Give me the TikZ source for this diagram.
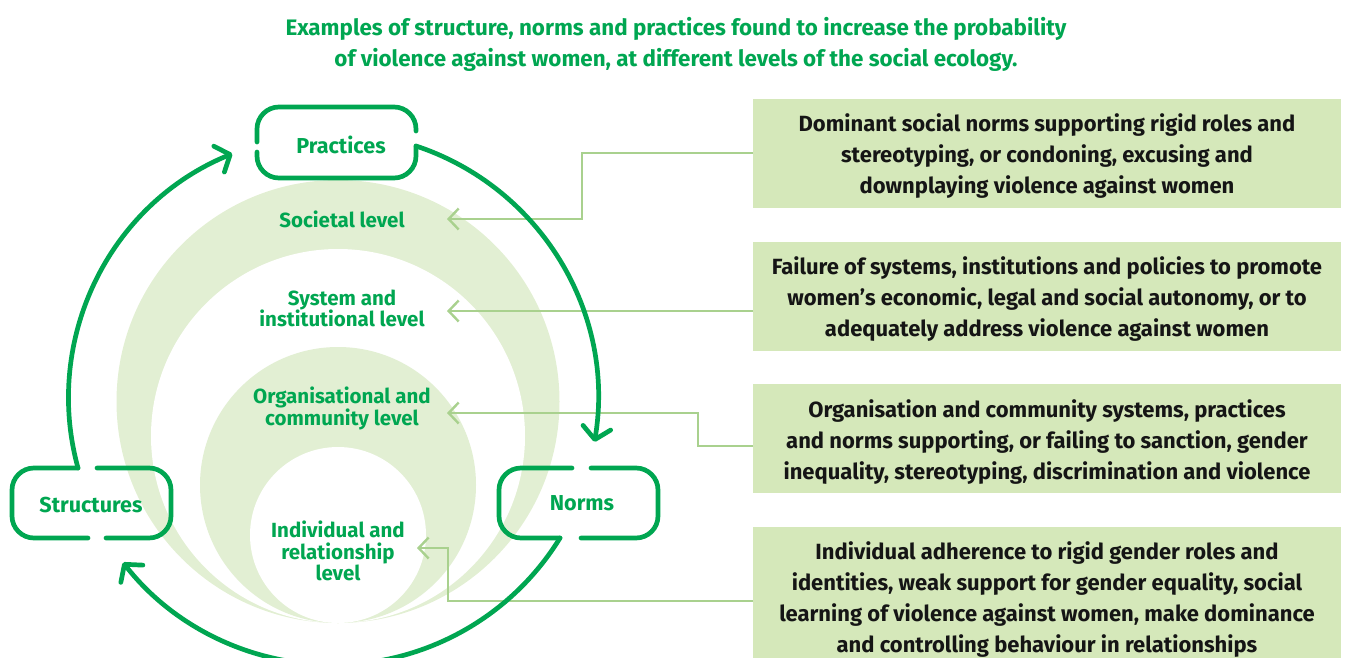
\documentclass[tikz,border=0pt]{standalone}
\usepackage{fontspec}
\setmainfont{Fira Sans}
\usetikzlibrary{arrows.meta}
\definecolor{dg}{HTML}{00A651}
\definecolor{lightfill}{HTML}{E2EFD3}
\definecolor{boxfill}{HTML}{D5E8BA}
\definecolor{conn}{HTML}{A9D18E}
\definecolor{txt}{HTML}{151515}
\begin{document}
\begin{tikzpicture}[x=1pt,y=-1pt,
  cyc/.style={draw=dg, line width=4.7pt, line cap=round, line join=round},
  cycarrow/.style={cyc, -{Straight Barb[length=12pt,width=28pt,line cap=round,line join=round]}},
  lconn/.style={draw=conn, line width=2.4pt, -{Straight Barb[length=10pt,width=21pt]}},
  title/.style={text=dg, font=\fontsize{22.4}{31}\selectfont\bfseries, align=center},
  lvl/.style={text=dg, font=\fontsize{20.5}{21.5}\selectfont\bfseries, align=center, inner sep=0pt},
  boxlab/.style={text=dg, font=\fontsize{21.6}{22}\selectfont\bfseries, inner sep=0pt},
  infotext/.style={text=txt, font=\fontsize{22}{31}\selectfont\bfseries, align=center, inner sep=0pt},
  infobox/.style={fill=boxfill}
]
\useasboundingbox (0,0) rectangle (1347,657);
% nested levels
\fill[lightfill] (338,401.5) circle[radius=221.5];
\fill[white] (338,436) circle[radius=187];
\fill[lightfill] (338,485) circle[radius=138];
\fill[white] (338,535) circle[radius=88];

% title
\node[title] (title) at (676,44) {Examples of structure, norms and practices found to increase the probability\\of violence against women, at different levels of the social ecology.};

% right boxes
\fill[infobox] (753,99) rectangle (1341,208);
\fill[infobox] (753,242) rectangle (1341,350.5);
\fill[infobox] (753,384) rectangle (1341,493);
\fill[infobox] (753,527) rectangle (1341,660);
\node[infotext] (b1) at (1047,156.5) {Dominant social norms supporting rigid roles and\\stereotyping, or condoning, excusing and\\downplaying violence against women};
\node[infotext] (b2) at (1047,299.5) {Failure of systems, institutions and policies to promote\\women’s economic, legal and social autonomy, or to\\adequately address violence against women};
\node[infotext] (b3) at (1047,442) {Organisation and community systems, practices\\and norms supporting, or failing to sanction, gender\\inequality, stereotyping, discrimination and violence};
\node[infotext] (b4) at (1047,600) {Individual adherence to rigid gender roles and\\identities, weak support for gender equality, social\\learning of violence against women, make dominance\\and controlling behaviour in relationships};

% level labels
\node[lvl] (l1) at (342,219) {Societal level};
\node[lvl] (l2) at (342,308.5) {System and\\institutional level};
\node[lvl] (l3) at (342,408.5) {Organisational and\\community level};
\node[lvl] (l4) at (338,551) {Individual and\\relationship\\level};

% connector end points
\coordinate (e1) at (753,153);
\coordinate (t1) at (447,219);
\coordinate (e2) at (753,311);
\coordinate (t2) at (447,311);
\coordinate (e3) at (753,446);
\coordinate (t3) at (447,413);
\coordinate (e4) at (753,601);
\coordinate (t4) at (417,548);

\draw[lconn] (e1) -- (582,153) -- (582,219) -- (t1);
\draw[lconn] (e2) -- (t2);
\draw[lconn] (e3) -- (698,446) -- (698,413) -- (t3);
\draw[lconn] (e4) -- (448,601) -- (448,548) -- (t4);

% cycle boxes
\node[boxlab] (prac) at (341,145) {Practices};
\node[boxlab] (stru) at (91,505) {Structures};
\node[boxlab] (norm) at (582,503) {Norms};

\draw[cyc, rounded corners=22pt] (257,142) -- (257,107) -- (416,107) -- (416,131);
\draw[cyc, rounded corners=22pt] (257,152) -- (257,178) -- (416,178) -- (416,146);
\draw[cyc, rounded corners=22pt] (572,468) -- (499,468) -- (499,538) -- (560,538);
\draw[cyc, rounded corners=22pt] (591,468) -- (658,468) -- (658,538) -- (581,538);
\draw[cyc, rounded corners=22pt] (78,468) -- (12,468) -- (12,538) -- (88,538);
\draw[cyc, rounded corners=22pt] (97,468) -- (171,468) -- (171,538) -- (106,538);

\coordinate (sA) at (78,468);
\coordinate (pA) at (416,146);
\coordinate (nA) at (560,538);
% cycle arrows
\draw[cycarrow] (sA) arc[start angle=164.6, end angle=247.7, radius=264];
\draw[cycarrow] (pA) arc[start angle=288.3, end angle=369.5, radius=265.5];
\draw[cycarrow] (nA) arc[start angle=31.6, end angle=142, radius=266.5];
\end{tikzpicture}
\end{document}
